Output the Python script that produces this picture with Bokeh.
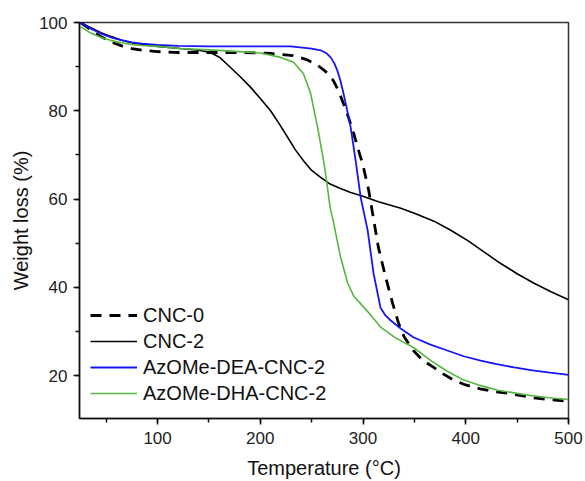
from bokeh.plotting import figure
from bokeh.models import Range1d, SingleIntervalTicker, Legend, LegendItem
from bokeh.embed import file_html
from bokeh.resources import INLINE

# ---- data ----
cnc0_x = [25, 35, 45, 55, 65, 75, 85, 100, 120, 150, 180, 210, 232, 245, 256, 264, 271, 276, 281, 286,
          291, 295, 299.6, 305.5, 310, 315, 322, 328.8, 334.7, 340, 349, 358, 368, 378, 388, 400, 414,
          428, 441, 454, 466, 480, 495, 500]
cnc0_y = [100, 98.3, 96.8, 95.6, 94.7, 94.1, 93.7, 93.4, 93.2, 93.2, 93.2, 93.0, 92.5, 91.6, 90.3, 88.8,
          86.9, 84.6, 81.6, 78.4, 74.8, 71.5, 68.0, 62.0, 55.8, 49.0, 42.3, 36.4, 31.8, 28.8, 25.7, 23.5,
          22.0, 20.4, 19.0, 17.9, 17.0, 16.4, 16.0, 15.5, 15.0, 14.6, 14.3, 14.2]

cnc2_x = [25, 35, 45, 55, 65, 75, 85, 100, 122, 140, 151.6, 161, 171, 181, 190.6, 200, 210, 218, 226.6,
          234, 242, 250, 258.7, 268, 278, 288, 297.7, 315, 336, 350, 369, 385, 402, 418, 434, 450, 466,
          483, 500]
cnc2_y = [100, 98.8, 97.7, 96.8, 96.0, 95.4, 95.0, 94.6, 94.1, 93.7, 93.2, 92.0, 89.8, 87.6, 85.3, 82.8,
          80.0, 77.2, 74.0, 71.2, 68.7, 66.5, 64.9, 63.4, 62.4, 61.5, 60.8, 59.4, 58.0, 56.8, 55.0, 53.0,
          50.6, 48.0, 45.4, 43.1, 41.0, 39.0, 37.2]

dea_x = [25, 35, 45, 55, 65, 75, 85, 100, 120, 150, 180, 200, 229.5, 250, 258.7, 264, 268.5, 272, 275,
         278, 281, 284.5, 288, 292.8, 297.7, 304.5, 310.3, 317, 322, 327, 336.6, 349, 365, 382, 398,
         414.5, 430, 447, 465, 482, 500]
dea_y = [100, 98.6, 97.5, 96.6, 96.0, 95.5, 95.2, 94.9, 94.7, 94.6, 94.6, 94.6, 94.6, 94.1, 93.7, 93.1,
         92.1, 90.8, 89.1, 86.8, 83.9, 80.2, 76.2, 68.7, 60.4, 52.9, 43.1, 35.4, 33.6, 32.5, 30.7, 28.7,
         27.1, 25.7, 24.4, 23.4, 22.6, 21.9, 21.2, 20.7, 20.2]

dha_x = [25, 35, 45, 55, 65, 75, 85, 100, 122, 150, 180, 200, 219.8, 232.4, 242, 249, 255.8, 261.6, 264,
         268, 271, 278, 285, 291, 298, 305, 317, 332, 349, 366, 382, 398, 414, 431, 447, 463, 481, 500]
dha_y = [99, 97.6, 96.6, 95.9, 95.4, 95.0, 94.8, 94.6, 94.1, 93.8, 93.4, 93.1, 92.1, 91.0, 88.4, 83.9,
         76.2, 68.7, 65.0, 58.0, 55.0, 47.0, 41.0, 38.0, 36.2, 34.4, 31.0, 28.5, 26.4, 23.4, 21.0, 19.0,
         17.8, 16.7, 16.1, 15.5, 15.0, 14.6]

labels = ["CNC-0", "CNC-2", "AzOMe-DEA-CNC-2", "AzOMe-DHA-CNC-2"]
x_title = "Temperature (°C)"
y_title = "Weight loss (%)"

FONT = "Liberation Sans"

p = figure(width=585, height=481, output_backend="svg", toolbar_location=None,
           x_range=Range1d(24, 500), y_range=Range1d(10.3, 100),
           min_border_left=79, min_border_right=17, min_border_top=22, min_border_bottom=63)
p.grid.visible = False
p.outline_line_color = "#333333"
p.outline_line_width = 1.5
p.background_fill_color = "white"
p.border_fill_color = "white"

p.xaxis.ticker = SingleIntervalTicker(interval=100, num_minor_ticks=2)
p.yaxis.ticker = SingleIntervalTicker(interval=20, num_minor_ticks=2)
for ax in (p.xaxis[0], p.yaxis[0]):
    ax.axis_line_color = "#111111"
    ax.axis_line_width = 1.5
    ax.major_tick_line_color = "#111111"
    ax.minor_tick_line_color = "#111111"
    ax.major_tick_line_width = 1.5
    ax.minor_tick_line_width = 1.5
    ax.major_tick_in = 0
    ax.major_tick_out = 6
    ax.minor_tick_in = 0
    ax.minor_tick_out = 4
    ax.major_label_text_font = FONT
    ax.major_label_text_font_size = "17px"
    ax.major_label_text_color = "#222222"
    ax.axis_label_text_font = FONT
    ax.axis_label_text_font_size = "20px"
    ax.axis_label_text_font_style = "normal"
    ax.axis_label_text_color = "#111111"
p.xaxis.axis_label = x_title
p.yaxis.axis_label = y_title
p.xaxis.major_label_standoff = 7
p.yaxis.major_label_standoff = 6
p.xaxis.axis_label_standoff = 10
p.yaxis.axis_label_standoff = 4

r0 = p.line(cnc0_x, cnc0_y, line_color="black", line_width=2.8, line_dash="11 8")
r1 = p.line(cnc2_x, cnc2_y, line_color="black", line_width=1.6)
r2 = p.line(dea_x, dea_y, line_color="#1515f5", line_width=1.8)
r3 = p.line(dha_x, dha_y, line_color="#55b540", line_width=1.6)

legend = Legend(items=[LegendItem(label=labels[0], renderers=[r0]),
                       LegendItem(label=labels[1], renderers=[r1]),
                       LegendItem(label=labels[2], renderers=[r2]),
                       LegendItem(label=labels[3], renderers=[r3])],
                location=(11, 13))
legend.border_line_color = None
legend.background_fill_alpha = 0
legend.padding = 0
legend.margin = 0
legend.spacing = 2
legend.glyph_width = 47
legend.glyph_height = 24
legend.label_height = 24
legend.label_standoff = 6
legend.label_text_font = FONT
legend.label_text_font_size = "20px"
legend.label_text_color = "#111111"
p.add_layout(legend)

open("out.html", "w").write(file_html(p, INLINE))
